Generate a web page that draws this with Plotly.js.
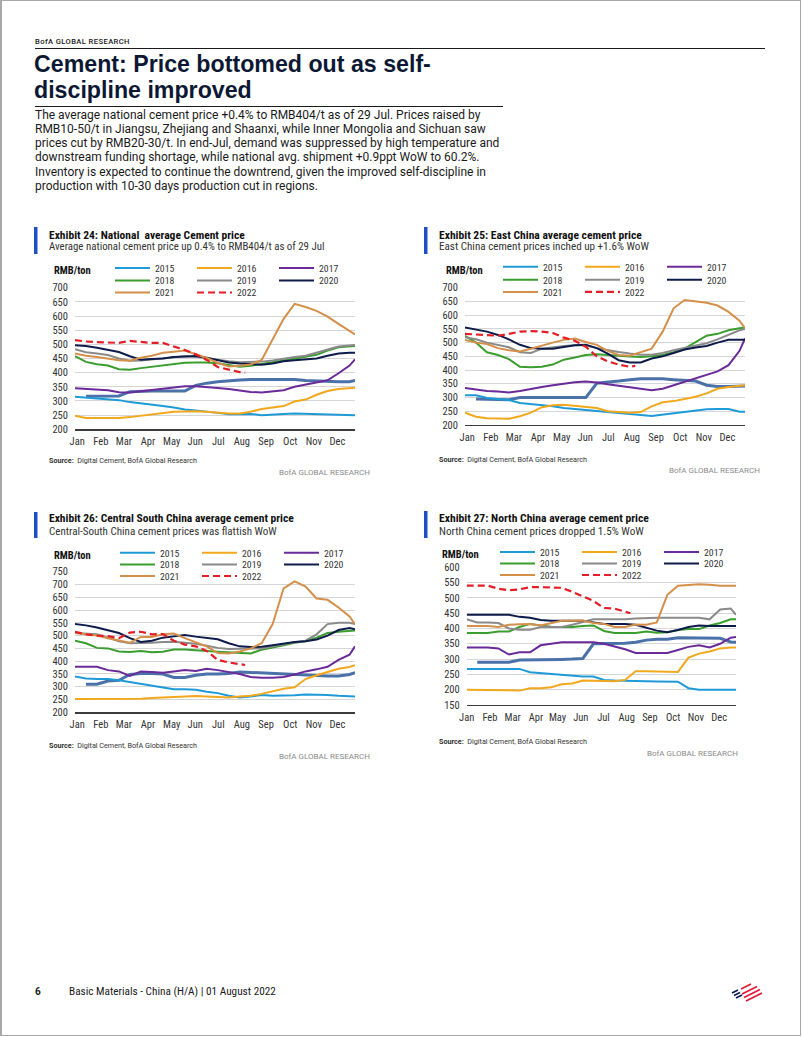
<!DOCTYPE html>
<html><head><meta charset="utf-8">
<script src="https://cdn.plot.ly/plotly-3.0.1.min.js"></script>
<style>
body{margin:0;background:#fff;}
#page{position:relative;width:802px;height:1037px;overflow:hidden;background:#fff;font-family:Roboto,"Noto Sans",sans-serif;}
#chart{position:absolute;left:0;top:0;width:802px;height:1037px;}
.t{position:absolute;white-space:nowrap;}
.rule{position:absolute;background:#1a1a1a;}
</style></head><body>
<div id="page">
<div id="chart"></div>
<div class="t" style="left:35px;top:36.5px;font-size:7.6px;font-weight:500;letter-spacing:0.4px;line-height:9px;color:#1a1a1a">BofA GLOBAL RESEARCH</div>
<div class="rule" style="left:35px;top:48px;width:730px;height:1.2px"></div>
<div class="t" id="ttl" style="left:34px;top:50.5px;font-family:'Liberation Sans',Arial,sans-serif;font-size:22px;font-weight:700;line-height:26px;color:#0c1833"><span id="ttl1">Cement: Price bottomed out as self-</span><br>discipline improved</div>
<div class="rule" style="left:35px;top:105.5px;width:468px;height:1px"></div>
<div class="t" id="par" style="left:35px;top:107.9px;font-size:12.2px;line-height:14.17px;color:#1a1a1a"><span id="par1">The average national cement price +0.4% to RMB404/t as of 29 Jul. Prices raised by</span><br>RMB10-50/t in Jiangsu, Zhejiang and Shaanxi, while Inner Mongolia and Sichuan saw<br>prices cut by RMB20-30/t. In end-Jul, demand was suppressed by high temperature and<br>downstream funding shortage, while national avg. shipment +0.9ppt WoW to 60.2%.<br>Inventory is expected to continue the downtrend, given the improved self-discipline in<br>production with 10-30 days production cut in regions.</div>
<div class="t" style="left:35px;top:986px;font-size:10px;font-weight:700;line-height:12px;color:#1a1a1a">6</div>
<div class="t" id="ftr" style="left:69px;top:986px;font-family:'Roboto Condensed',Roboto,sans-serif;font-size:11px;line-height:12px;color:#1a1a1a"><span id="ftr1">Basic Materials - China (H/A) | 01 August 2022</span></div>
<svg style="position:absolute;left:728px;top:982px" width="38" height="24" viewBox="0 0 38 24">
<g stroke="#0c1d5a" stroke-width="1.8" stroke-linecap="butt" fill="none">
<path d="M4,11 L10,8"/><path d="M6,13.5 L12,10.5"/><path d="M8,16 L14,13"/></g>
<g stroke="#e31837" stroke-width="1.8" fill="none">
<path d="M13,7 L23,2"/><path d="M14,12 L29,4.5"/><path d="M16,15.5 L32,7.5"/><path d="M18,19 L34,11"/></g>
</svg>
<div style="position:absolute;left:0;top:0;width:801px;height:1036px;box-sizing:border-box;border:1px solid #a8a8a8;border-left-width:2px"></div>
</div>
<script>
// ---------- data ----------
const MONTHS = ['Jan','Feb','Mar','Apr','May','Jun','Jul','Aug','Sep','Oct','Nov','Dec'];
const YEARS = ['2015','2016','2017','2018','2019','2020','2021','2022'];
// week index of each observation (biweekly readings), and for 2022 (year to date)
const WK = [0,2,4,6,8,10,12,14,16,18,20,22,24,26,28,30,32,34,36,38,40,42,44,46,48,50,51];
const WK22 = [0,2,4,6,8,10,12,14,16,18,20,22,24,26,28,30,31];

// Exhibit 24: National
const nat15 = [315,312,308,306,303,296,292,287,282,277,270,266,263,258,253,254,254,250,251,254,256,255,253,253,252,250,250];
const nat16 = [248,240,240,240,240,243,248,253,257,262,263,264,262,258,256,256,262,272,278,282,298,305,322,335,342,346,347];
const nat17 = [345,343,341,338,331,330,334,338,342,347,352,352,350,346,342,336,332,330,333,338,350,358,364,373,398,425,447];
const natX  = [null,317,317,317,318,333,335,335,335,335,335,355,363,368,372,374,376,376,375,376,376,372,370,368,368,368,372];
const nat18 = [458,438,430,425,412,410,416,421,425,432,435,436,436,433,428,421,424,430,436,443,449,456,463,478,490,493,494];
const nat19 = [483,472,468,462,450,442,443,447,452,456,458,456,450,444,440,437,437,439,443,450,455,460,470,482,492,496,498];
const nat20 = [497,494,488,480,473,458,446,448,450,455,458,459,453,444,436,432,429,428,432,440,444,446,450,460,468,470,470];
const nat21 = [468,460,455,450,444,442,453,460,470,474,478,465,452,435,422,424,429,445,515,590,643,632,618,598,572,548,535];
const nat22 = [515,510,508,507,505,512,508,505,505,493,480,465,445,420,410,402,400];

// Exhibit 25: East China
const east15 = [308,308,298,294,291,280,276,273,268,262,258,255,252,247,243,240,236,233,238,243,248,253,257,258,258,248,248];
const east16 = [245,230,225,225,223,232,245,265,272,274,270,267,262,250,247,245,247,268,283,287,295,303,315,332,338,342,345];
const east17 = [335,330,324,322,318,324,332,338,345,350,356,358,355,348,343,337,332,327,332,345,358,370,382,395,418,470,515];
const eastX  = [null,295,295,293,292,300,300,300,300,300,300,300,352,355,360,365,368,368,368,365,362,360,345,340,340,340,342];
const east18 = [525,500,465,455,440,412,410,412,420,438,446,455,458,455,450,449,448,450,455,465,478,500,525,532,545,552,555];
const east19 = [520,512,500,492,483,465,462,478,484,488,490,490,480,472,466,460,456,456,462,472,480,488,498,512,528,545,550];
const east20 = [555,548,540,528,512,492,480,478,478,484,490,492,480,460,436,428,428,442,450,462,475,482,488,500,510,510,510];
const east21 = [510,500,495,480,472,468,478,490,500,510,515,502,492,470,455,452,465,478,540,625,655,650,645,635,612,580,553];
const east22 = [532,530,527,525,532,540,542,540,535,518,507,485,450,432,420,412,415];

// Exhibit 26: Central South China
const cs15 = [340,332,330,330,325,318,310,305,298,290,290,288,280,275,265,258,262,268,265,265,267,270,270,268,265,263,262];
const cs16 = [252,252,252,252,252,252,253,256,258,260,262,264,262,260,258,262,265,272,282,292,298,330,345,358,370,377,384];
const cs17 = [378,378,378,365,360,342,360,358,355,360,365,362,370,365,358,350,338,335,335,338,348,360,368,378,405,425,458];
const csX  = [null,310,310,322,325,348,352,352,350,336,336,345,350,350,352,358,356,352,350,348,346,344,342,342,342,348,355];
const cs18 = [480,470,452,450,438,436,440,435,437,446,446,442,440,437,435,434,430,445,455,462,472,478,492,510,515,517,520];
const cs19 = [510,508,505,492,478,470,470,472,475,476,472,468,460,452,448,450,450,450,458,468,474,480,505,545,550,550,545];
const cs20 = [545,540,532,522,510,490,475,480,492,497,502,496,492,486,470,458,455,456,462,470,475,478,485,500,522,530,525];
const cs21 = [510,505,500,490,480,472,495,495,505,508,490,475,458,432,430,438,450,470,545,685,712,692,645,640,610,575,545];
const cs22 = [515,505,500,498,490,512,515,505,506,480,465,458,440,405,395,388,385];

// Exhibit 27: North China
const north15 = [268,268,268,268,268,268,257,254,252,250,245,243,243,232,230,230,230,228,227,227,226,205,200,200,200,200,200];
const north16 = [200,200,200,200,198,197,205,205,208,218,220,230,230,230,228,232,260,260,260,258,258,305,318,325,335,338,338];
const north17 = [338,338,338,335,315,322,322,345,350,355,355,355,355,350,342,332,320,320,320,320,330,340,345,338,350,370,372];
const northX  = [null,290,290,290,290,297,297,297,297,299,300,302,350,350,350,352,355,362,365,365,370,370,370,370,368,356,355];
const north18 = [385,385,385,390,390,405,415,410,406,405,405,408,410,392,385,385,385,390,386,388,395,398,398,410,418,430,430];
const north19 = [430,420,420,418,400,396,396,405,405,405,412,422,430,430,430,430,433,435,435,435,435,435,435,430,462,465,445];
const north20 = [445,445,445,445,445,438,435,428,425,425,425,425,420,415,415,415,412,402,393,388,395,405,410,408,408,408,408];
const north21 = [408,408,408,405,412,414,415,410,418,425,425,426,418,415,405,405,413,412,420,510,540,542,545,543,540,540,540];
const north22 = [540,540,540,530,525,528,535,535,535,533,520,505,490,467,465,455,450];

const TITLES = ['Exhibit 24: National  average Cement price','Exhibit 25: East China average cement price',
  'Exhibit 26: Central South China average cement price','Exhibit 27: North China average cement price'];
const SUBTITLES = ['Average national cement price up 0.4% to RMB404/t as of 29 Jul','East China cement prices inched up +1.6% WoW',
  'Central-South China cement prices was flattish WoW','North China cement prices dropped 1.5% WoW'];
const UNIT = 'RMB/ton';
const SOURCE = '<b>Source:</b>  Digital Cement, BofA Global Research';
const BRAND = 'BofA GLOBAL RESEARCH';
const YRANGES = [[200,700],[200,700],[200,750],[150,600]];

// ---------- text fitting (layout only) ----------
function fit(boxId, spanId, target){
  const el = document.getElementById(boxId), sp = document.getElementById(spanId);
  const fs = parseFloat(el.style.fontSize), w = sp.getBoundingClientRect().width;
  if (w > 0) el.style.fontSize = (fs * target / w).toFixed(2) + 'px';
}
fit('ttl','ttl1',397); fit('par','par1',445); fit('ftr','ftr1',207);
const ctx = document.createElement('canvas').getContext('2d');
function sizeFor(text, weight, family, target, lo, hi){
  ctx.font = weight + ' 100px ' + family;
  const w = ctx.measureText(text).width;
  const s = w > 0 ? 100 * target / w : (lo+hi)/2;
  return Math.max(lo, Math.min(hi, s));
}

// ---------- styling / placement ----------
const PW = 802, PH = 1037;
const X = v => v / PW;
const Y = v => 1 - v / PH;
const F = '"Roboto Condensed", Roboto, sans-serif';
const FR = 'Roboto, "Noto Sans", sans-serif';
const COL = {'2015':'#1e9bd7','2016':'#f2a81d','2017':'#6a2a9a','2018':'#3a9e2e','2019':'#8a8a8a','2020':'#0d1b4b','2021':'#d4904a','2022':'#e41e26'};
const EXTRA_COL = '#4a72a8';

const series = [
  [nat15,nat16,nat17,nat18,nat19,nat20,nat21,nat22,natX],
  [east15,east16,east17,east18,east19,east20,east21,east22,eastX],
  [cs15,cs16,cs17,cs18,cs19,cs20,cs21,cs22,csX],
  [north15,north16,north17,north18,north19,north20,north21,north22,northX]
];
// plot boxes [left, right, top, bottom] in px
const BOX = [[75,355,287.7,429.3],[465,745,287.7,425],[75,355,571.7,712.3],[466.7,736,567.3,705]];
const TICKPOS = [
  [0.4,4.7,8.9,13.3,17.6,21.9,26.1,30.4,34.8,39.2,43.5,47.8],
  [0.4,4.7,8.9,13.3,17.6,21.9,26.1,30.4,34.8,39.2,43.5,47.8],
  [0.4,4.7,8.9,13.3,17.6,21.9,26.1,30.4,34.8,39.2,43.5,47.8],
  [0.0,4.4,8.7,13.1,17.2,21.6,25.9,30.3,34.7,39.1,43.4,47.8]];
const LEG = [ {x:110, rows:[268,280.5,292.5]}, {x:498, rows:[266.7,279.8,291.9]},
              {x:115, rows:[552.8,564.4,576]}, {x:495, rows:[552,563.5,575]} ];
// text anchors (px) and reference text widths (px) for titles / subtitles
const TXT = [
  {bar:[34,37.5,227,254], title:[47,235.5], tw:196, sub:[47,246.8], sw:276, unit:[52,270.7], src:[47,460], brand:[372,472.3]},
  {bar:[424,427.5,227,254], title:[437,235.5], tw:203, sub:[437,246.7], sw:210, unit:[444,270.7], src:[437,459.5], brand:[762,470.7]},
  {bar:[34,37.5,512,538], title:[47,518.3], tw:245, sub:[47,531.7], sw:228, unit:[52,555.7], src:[47,745], brand:[372,756.7]},
  {bar:[424,427.5,511,538], title:[437,517.7], tw:210, sub:[437,531.3], sw:205, unit:[440,554], src:[437,741.7], brand:[740,753.3]}
];

const traces = [];
const layout = {width:PW, height:PH, margin:{l:0,r:0,t:0,b:0}, paper_bgcolor:'rgba(0,0,0,0)', plot_bgcolor:'rgba(0,0,0,0)',
  showlegend:true, font:{family:F, color:'#333'}, annotations:[], shapes:[], hovermode:false};

series.forEach((arrs, c) => {
  const n = c + 1, sx = n === 1 ? '' : n;
  const b = BOX[c];
  layout['xaxis'+sx] = {domain:[X(b[0]), X(b[1])], anchor:'y'+sx, range:[0,51], tickvals:TICKPOS[c], ticktext:MONTHS,
    tickangle:0, showgrid:false, zeroline:false, showline:true, linecolor:'#3c3c3c', linewidth:1.3, ticks:'',
    tickfont:{size:10.5, color:'#333', family:F}, ticklabelstandoff:2, fixedrange:true};
  layout['yaxis'+sx] = {domain:[Y(b[3]), Y(b[2])], anchor:'x'+sx, range:YRANGES[c], tick0:0, dtick:50,
    showgrid:true, gridcolor:'#d6d6d6', gridwidth:1, zeroline:false, showline:false, ticks:'',
    tickfont:{size:10.5, color:'#333', family:F}, ticklabelstandoff:6, fixedrange:true};
  // unlabelled steel-blue series drawn first, then the legend years
  const ordered = [8,0,1,2,3,4,5,6,7];
  ordered.forEach(i => {
    const isExtra = i === 8, is22 = i === 7;
    const row = i < 3 ? 0 : (i < 6 ? 1 : 2);
    const lid = c*3 + row + 1;
    traces.push({
      type:'scatter', mode:'lines', x: is22 ? WK22 : WK, y: arrs[i],
      name: isExtra ? '' : YEARS[i], xaxis:'x'+sx, yaxis:'y'+sx,
      showlegend: !isExtra, legend: isExtra ? 'legend' : (lid === 1 ? 'legend' : 'legend'+lid),
      line: isExtra ? {color:EXTRA_COL, width:3} : (is22 ? {color:COL['2022'], width:2.2, dash:'7px,4px'} : {color:COL[YEARS[i]], width:2}),
      hoverinfo:'skip', connectgaps:false
    });
  });
  // legends: one per row
  LEG[c].rows.forEach((ry, r) => {
    const lid = c*3 + r + 1;
    layout[lid === 1 ? 'legend' : 'legend'+lid] = {orientation:'h', x:X(LEG[c].x), xanchor:'left', y:Y(ry), yanchor:'middle',
      entrywidth:32, entrywidthmode:'pixels', itemwidth:35, font:{size:9.8, color:'#333', family:F}, bgcolor:'rgba(0,0,0,0)',
      borderwidth:0, itemclick:false, itemdoubleclick:false, traceorder:'normal'};
  });
  const t = TXT[c];
  layout.shapes.push({type:'rect', xref:'paper', yref:'paper', x0:X(t.bar[0]), x1:X(t.bar[1]), y0:Y(t.bar[3]), y1:Y(t.bar[2]),
    fillcolor:'#1f4fc4', line:{width:0}});
  const ann = (txt, p, opts) => layout.annotations.push(Object.assign({text:txt, xref:'paper', yref:'paper', x:X(p[0]), y:Y(p[1]),
    xanchor:'left', yanchor:'middle', showarrow:false, font:{family:F, size:10, color:'#222'}}, opts));
  const tsz = sizeFor(TITLES[c], 'bold', F, t.tw, 10.5, 12.5);
  const ssz = sizeFor(SUBTITLES[c], 'normal', F, t.sw, 9.5, 11.5);
  ann('<b>'+TITLES[c]+'</b>', t.title, {font:{family:F, size:tsz, color:'#111'}});
  ann(SUBTITLES[c], t.sub, {font:{family:F, size:ssz, color:'#333'}});
  ann('<b>'+UNIT+'</b>', t.unit, {font:{family:F, size:10.5, color:'#111'}});
  ann(SOURCE, t.src, {font:{family:FR, size:7.2, color:'#333'}});
  ann(BRAND, t.brand, {xanchor:'right', font:{family:FR, size:8, color:'#8a8a8a'}});
});

Plotly.newPlot('chart', traces, layout, {staticPlot:true, displayModeBar:false});
</script>
</body></html>
